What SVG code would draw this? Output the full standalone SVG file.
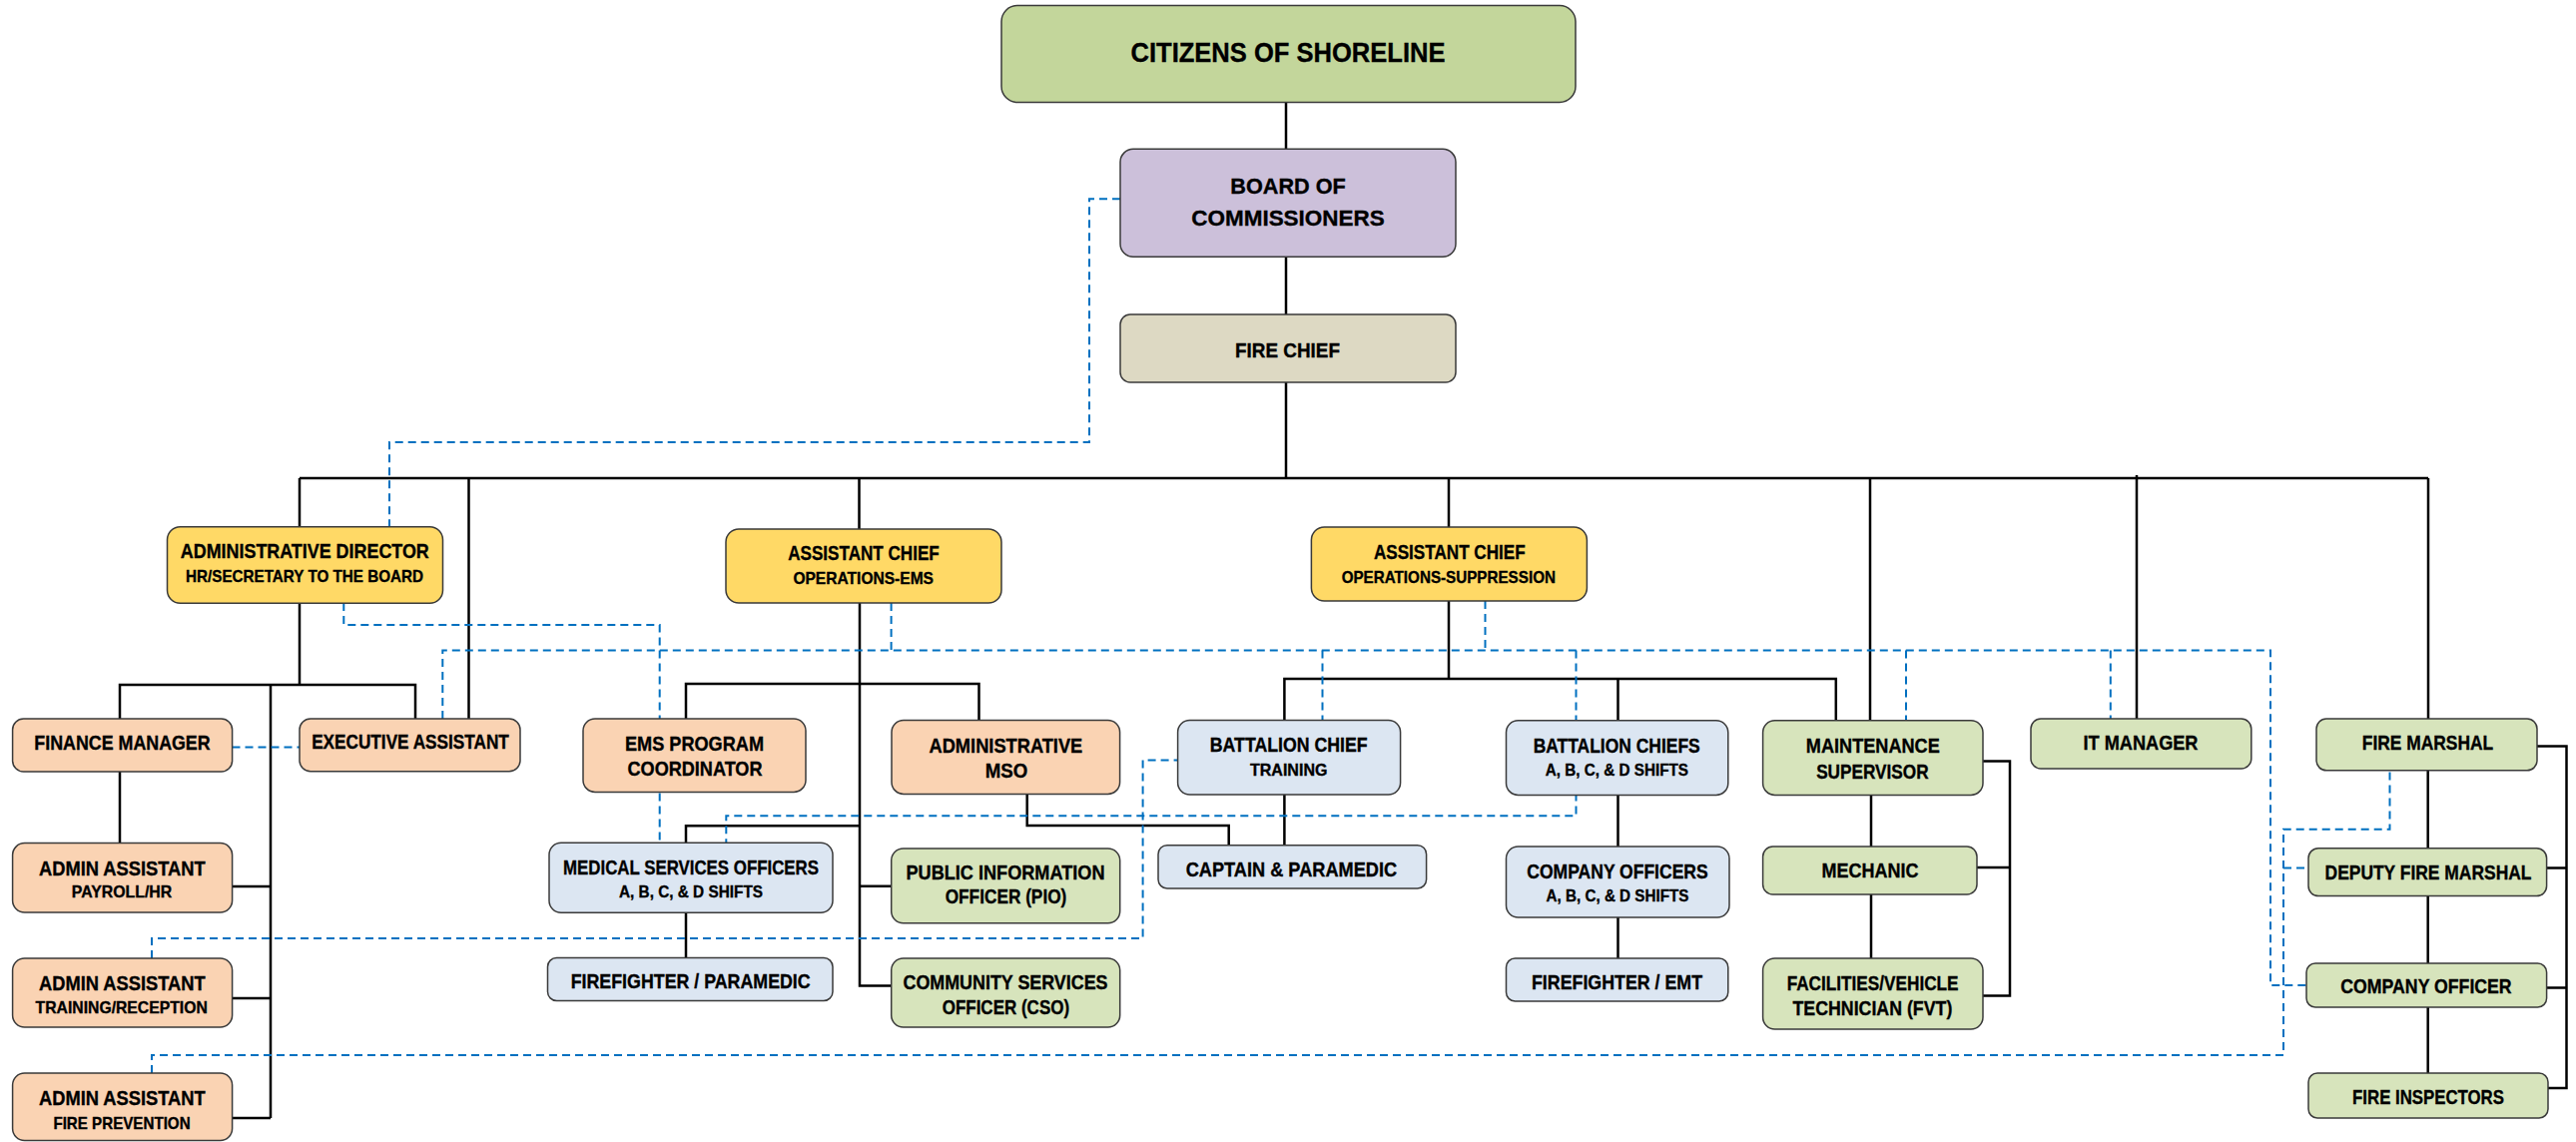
<svg xmlns="http://www.w3.org/2000/svg" width="2580" height="1144" viewBox="0 0 2580 1144">
<style>
.bx{stroke:#3a3a3a;stroke-width:1.5}
.g0{fill:#C3D69B}.lv{fill:#CCC0DA}.bg{fill:#DDD9C3}.yl{fill:#FFD966}.pc{fill:#FAD3B3}.bl{fill:#DCE6F2}.gr{fill:#D7E4BC}
text{font-family:"Liberation Sans",Arial,sans-serif;font-weight:bold;fill:#000;stroke:#000;stroke-width:0.35;text-anchor:middle}
.t{font-size:19.3px}.s{font-size:16.4px}.big{font-size:27px}.brd{font-size:22px}.fc{font-size:19.5px}
.ln{fill:none;stroke:#000;stroke-width:2.5}
.dl{fill:none;stroke:#0070C0;stroke-width:2;stroke-dasharray:8 5}
</style>
<rect width="2580" height="1144" fill="#fff"/>
<g id="connectors">
<path class="ln" d="M1288 103V149M1288 257V315M1288 383V479M300 479H2432M300 479V528M469.5 479V720M860.5 479V530M1451 479V528M1873 479V722M2140 476V720M2432 479V720"/>
<path class="ln" d="M300 604V686M120 720V686H416V720M271 686V1120M271 888H232M271 1000H232M271 1120H232M120 773V845"/>
<path class="ln" d="M861 604V987.5H893M687 720V685H980.5V721M687 845V827.3H861M861 887.7H893M1028.7 795V827H1230.7V847M687 914V960"/>
<path class="ln" d="M1451 602V680M1286.4 721V680H1838.8V722M1620.5 680V722M1286.4 796V847M1620.5 796V848M1620.5 919V960M1874 796V848M1874 896V960"/>
<path class="ln" d="M1986 762.5H2013V997.5H1986M1980 869H2013"/>
<path class="ln" d="M2431.7 772V850M2431.7 898V965M2431.7 1009V1075M2541 747.6H2570.5V1090H2552M2550.6 869.6H2570.5M2550.6 989.5H2570.5"/>
<path class="dl" d="M1122 199.3H1091V443H390V528"/>
<path class="dl" d="M344.3 604V626H660.7V845"/>
<path class="dl" d="M443.3 720V651.5H2274V987H2310"/>
<path class="dl" d="M892.6 604V651.5M1487.5 602V651.5M1324.5 651.5V721M1909 651.5V722M2113.8 651.5V720"/>
<path class="dl" d="M1578.5 651.5V817.3H727.3V844.5"/>
<path class="dl" d="M152 960V940H1144.6V761.6H1180"/>
<path class="dl" d="M152 1075V1057H2287V830.7H2393.5V772M2287 869.6H2312"/>
<path class="dl" d="M232.5 748.5H300"/>
</g>
<g id="citizens"><rect class="bx g0" x="1003" y="5.5" width="575" height="97" rx="16"/><text class="big" x="1290" y="61.7" textLength="315" lengthAdjust="spacingAndGlyphs">CITIZENS OF SHORELINE</text></g>
<g id="board"><rect class="bx lv" x="1122" y="149.3" width="336" height="108" rx="13"/><text class="brd" x="1290" y="194.3" textLength="115.5" lengthAdjust="spacingAndGlyphs">BOARD OF</text><text class="brd" x="1290" y="226" textLength="193.5" lengthAdjust="spacingAndGlyphs">COMMISSIONERS</text></g>
<g id="fire-chief"><rect class="bx bg" x="1122" y="315" width="336" height="68" rx="10"/><text class="fc" x="1289.5" y="358" textLength="105" lengthAdjust="spacingAndGlyphs">FIRE CHIEF</text></g>
<g id="admin-director"><rect class="bx yl" x="167.5" y="527.7" width="276" height="76.6" rx="13"/><text class="t" x="305.3" y="559.3" textLength="249" lengthAdjust="spacingAndGlyphs">ADMINISTRATIVE DIRECTOR</text><text class="s" x="305" y="582.7" textLength="238" lengthAdjust="spacingAndGlyphs">HR/SECRETARY TO THE BOARD</text></g>
<g id="ac-ems"><rect class="bx yl" x="727" y="530" width="276" height="74" rx="13"/><text class="t" x="865" y="561" textLength="151.5" lengthAdjust="spacingAndGlyphs">ASSISTANT CHIEF</text><text class="s" x="864.7" y="584.5" textLength="140.6" lengthAdjust="spacingAndGlyphs">OPERATIONS-EMS</text></g>
<g id="ac-suppression"><rect class="bx yl" x="1313.4" y="528" width="276" height="74" rx="13"/><text class="t" x="1451.8" y="560" textLength="151.8" lengthAdjust="spacingAndGlyphs">ASSISTANT CHIEF</text><text class="s" x="1450.8" y="583.5" textLength="214.3" lengthAdjust="spacingAndGlyphs">OPERATIONS-SUPPRESSION</text></g>
<g id="finance-manager"><rect class="bx pc" x="12.6" y="720" width="220" height="53" rx="11"/><text class="t" x="122.5" y="751" textLength="176.3" lengthAdjust="spacingAndGlyphs">FINANCE MANAGER</text></g>
<g id="executive-assistant"><rect class="bx pc" x="300" y="720" width="221" height="52.7" rx="11"/><text class="t" x="411" y="750" textLength="197.7" lengthAdjust="spacingAndGlyphs">EXECUTIVE ASSISTANT</text></g>
<g id="ems-program-coordinator"><rect class="bx pc" x="584" y="720" width="223" height="73.4" rx="12"/><text class="t" x="695.5" y="751.5" textLength="139" lengthAdjust="spacingAndGlyphs">EMS PROGRAM</text><text class="t" x="696" y="777.2" textLength="135" lengthAdjust="spacingAndGlyphs">COORDINATOR</text></g>
<g id="administrative-mso"><rect class="bx pc" x="893" y="721.4" width="228.6" height="74" rx="12"/><text class="t" x="1007.4" y="753.5" textLength="153.8" lengthAdjust="spacingAndGlyphs">ADMINISTRATIVE</text><text class="t" x="1008" y="779" textLength="42.5" lengthAdjust="spacingAndGlyphs">MSO</text></g>
<g id="battalion-chief-training"><rect class="bx bl" x="1179.6" y="721.4" width="223" height="74.6" rx="12"/><text class="t" x="1290.7" y="752.5" textLength="157.8" lengthAdjust="spacingAndGlyphs">BATTALION CHIEF</text><text class="s" x="1290.7" y="777" textLength="77.5" lengthAdjust="spacingAndGlyphs">TRAINING</text></g>
<g id="battalion-chiefs"><rect class="bx bl" x="1508.5" y="721.8" width="222.3" height="74.6" rx="12"/><text class="t" x="1619.2" y="754" textLength="167" lengthAdjust="spacingAndGlyphs">BATTALION CHIEFS</text><text class="s" x="1619.4" y="776.5" textLength="143.3" lengthAdjust="spacingAndGlyphs">A, B, C, &amp; D SHIFTS</text></g>
<g id="maintenance-supervisor"><rect class="bx gr" x="1765.6" y="721.8" width="220.4" height="74.6" rx="12"/><text class="t" x="1875.8" y="754" textLength="134" lengthAdjust="spacingAndGlyphs">MAINTENANCE</text><text class="t" x="1875.4" y="779.5" textLength="112.5" lengthAdjust="spacingAndGlyphs">SUPERVISOR</text></g>
<g id="it-manager"><rect class="bx gr" x="2034" y="720" width="220.8" height="50" rx="10"/><text class="t" x="2144" y="750.5" textLength="114.9" lengthAdjust="spacingAndGlyphs">IT MANAGER</text></g>
<g id="fire-marshal"><rect class="bx gr" x="2320" y="720" width="221" height="51.8" rx="10"/><text class="t" x="2431.5" y="750.5" textLength="131.4" lengthAdjust="spacingAndGlyphs">FIRE MARSHAL</text></g>
<g id="admin-assistant-payroll"><rect class="bx pc" x="12.6" y="844.6" width="220" height="69.4" rx="12"/><text class="t" x="122.3" y="876.5" textLength="166.5" lengthAdjust="spacingAndGlyphs">ADMIN ASSISTANT</text><text class="s" x="122" y="899" textLength="100.4" lengthAdjust="spacingAndGlyphs">PAYROLL/HR</text></g>
<g id="medical-services-officers"><rect class="bx bl" x="550" y="844.3" width="284" height="70" rx="12"/><text class="t" x="692" y="876" textLength="256" lengthAdjust="spacingAndGlyphs">MEDICAL SERVICES OFFICERS</text><text class="s" x="692" y="898.7" textLength="144" lengthAdjust="spacingAndGlyphs">A, B, C, &amp; D SHIFTS</text></g>
<g id="pio"><rect class="bx gr" x="892.7" y="850" width="229" height="74.7" rx="12"/><text class="t" x="1007" y="881" textLength="199" lengthAdjust="spacingAndGlyphs">PUBLIC INFORMATION</text><text class="t" x="1007.5" y="905" textLength="121.7" lengthAdjust="spacingAndGlyphs">OFFICER (PIO)</text></g>
<g id="captain-paramedic"><rect class="bx bl" x="1160" y="846.7" width="268.6" height="43.3" rx="9"/><text class="t" x="1293.4" y="877.5" textLength="211.4" lengthAdjust="spacingAndGlyphs">CAPTAIN &amp; PARAMEDIC</text></g>
<g id="company-officers"><rect class="bx bl" x="1508.5" y="848" width="223.5" height="71" rx="12"/><text class="t" x="1620" y="879.5" textLength="181.3" lengthAdjust="spacingAndGlyphs">COMPANY OFFICERS</text><text class="s" x="1620" y="903" textLength="143" lengthAdjust="spacingAndGlyphs">A, B, C, &amp; D SHIFTS</text></g>
<g id="mechanic"><rect class="bx gr" x="1765.6" y="848" width="214.4" height="48" rx="10"/><text class="t" x="1873" y="878.5" textLength="96.9" lengthAdjust="spacingAndGlyphs">MECHANIC</text></g>
<g id="deputy-fire-marshal"><rect class="bx gr" x="2312" y="849.7" width="238.6" height="47.9" rx="10"/><text class="t" x="2432" y="880.5" textLength="206.9" lengthAdjust="spacingAndGlyphs">DEPUTY FIRE MARSHAL</text></g>
<g id="admin-assistant-training"><rect class="bx pc" x="12.6" y="960" width="220" height="69" rx="12"/><text class="t" x="122.3" y="992" textLength="166.5" lengthAdjust="spacingAndGlyphs">ADMIN ASSISTANT</text><text class="s" x="121.7" y="1015.3" textLength="172.2" lengthAdjust="spacingAndGlyphs">TRAINING/RECEPTION</text></g>
<g id="firefighter-paramedic"><rect class="bx bl" x="548.5" y="959.5" width="285.5" height="43" rx="9"/><text class="t" x="691.7" y="990" textLength="240" lengthAdjust="spacingAndGlyphs">FIREFIGHTER / PARAMEDIC</text></g>
<g id="cso"><rect class="bx gr" x="892.7" y="960" width="229" height="69" rx="12"/><text class="t" x="1007" y="991.2" textLength="205" lengthAdjust="spacingAndGlyphs">COMMUNITY SERVICES</text><text class="t" x="1007.4" y="1016" textLength="127.4" lengthAdjust="spacingAndGlyphs">OFFICER (CSO)</text></g>
<g id="firefighter-emt"><rect class="bx bl" x="1508.5" y="960" width="222.3" height="43" rx="9"/><text class="t" x="1619.5" y="990.5" textLength="171" lengthAdjust="spacingAndGlyphs">FIREFIGHTER / EMT</text></g>
<g id="fvt"><rect class="bx gr" x="1765.6" y="960" width="220.4" height="71" rx="12"/><text class="t" x="1875.6" y="992" textLength="171.9" lengthAdjust="spacingAndGlyphs">FACILITIES/VEHICLE</text><text class="t" x="1875.4" y="1016.5" textLength="159.8" lengthAdjust="spacingAndGlyphs">TECHNICIAN (FVT)</text></g>
<g id="company-officer"><rect class="bx gr" x="2310" y="965" width="240.6" height="44" rx="9"/><text class="t" x="2430" y="995.3" textLength="171.3" lengthAdjust="spacingAndGlyphs">COMPANY OFFICER</text></g>
<g id="admin-assistant-fire-prevention"><rect class="bx pc" x="12.6" y="1075" width="220" height="67.5" rx="12"/><text class="t" x="122.3" y="1106.5" textLength="166.5" lengthAdjust="spacingAndGlyphs">ADMIN ASSISTANT</text><text class="s" x="122" y="1130.5" textLength="137.2" lengthAdjust="spacingAndGlyphs">FIRE PREVENTION</text></g>
<g id="fire-inspectors"><rect class="bx gr" x="2312" y="1075" width="240" height="45" rx="9"/><text class="t" x="2432" y="1105.5" textLength="151.8" lengthAdjust="spacingAndGlyphs">FIRE INSPECTORS</text></g>
</svg>
